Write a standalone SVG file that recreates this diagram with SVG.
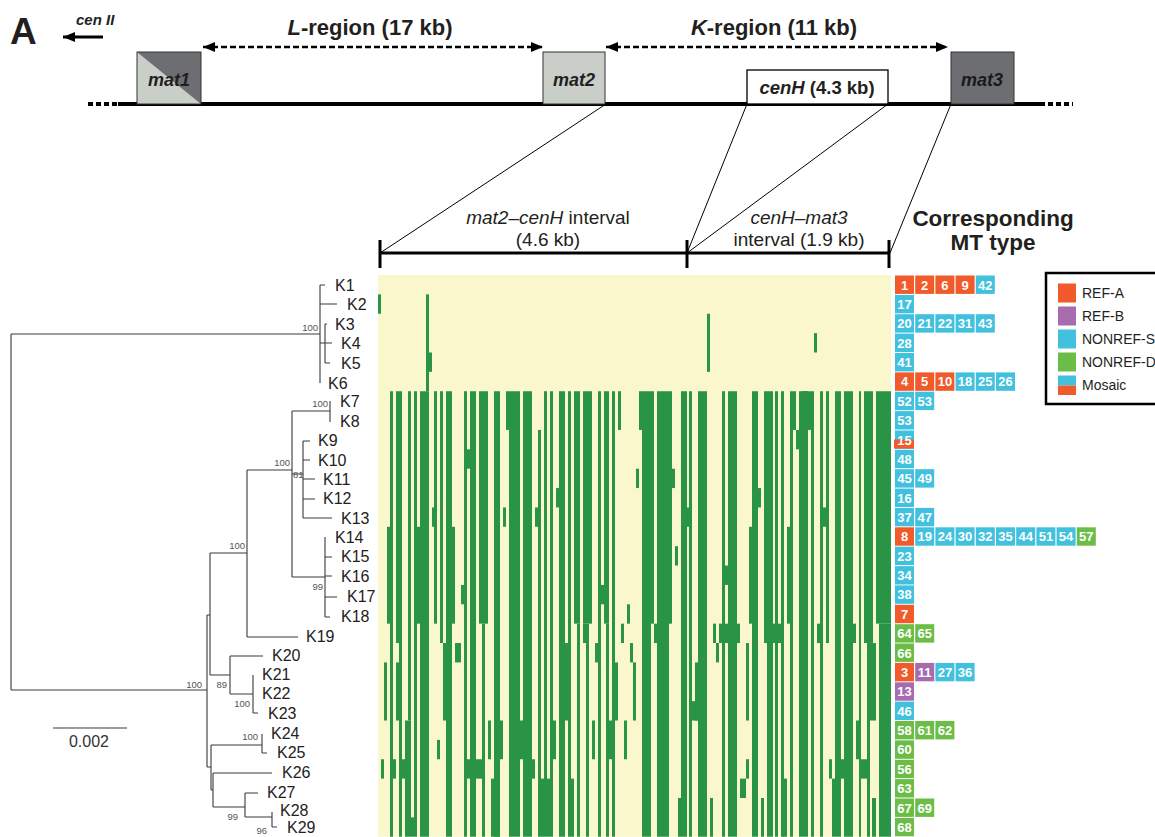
<svg xmlns="http://www.w3.org/2000/svg" width="1155" height="837" viewBox="0 0 1155 837">
<style>
text{font-family:"Liberation Sans",Arial,sans-serif;fill:#231f20}
.hb{font-weight:bold}
.it{font-style:italic}
.lf{font-size:16px;fill:#222}
.bs{font-size:9.5px;fill:#555}
.n{font-weight:bold;font-size:13px;fill:#fff;text-anchor:middle}
.a{fill:#f15a2a}.b{fill:#a66cae}.s{fill:#42c1de}.d{fill:#6bbd48}
.tr{fill:none;stroke:#3a3a3a;stroke-width:1.1}
.g{fill:#2a9446}
.lg{font-size:14px}
</style>
<defs>
<marker id="ah" markerUnits="userSpaceOnUse" markerWidth="13" markerHeight="10" refX="12" refY="5" orient="auto-start-reverse"><path d="M0,0 L12,5 L0,10 z" fill="#000"/></marker>
</defs>
<rect width="1155" height="837" fill="#fff"/>

<!-- title area -->
<text x="10" y="44" class="hb" font-size="37">A</text>
<g id="cenII"><text x="76" y="25" class="hb it" font-size="15">cen II</text>
<line x1="103" y1="37" x2="63" y2="37" stroke="#000" stroke-width="3" marker-end="url(#ah)"/></g>
<g id="L-region"><text x="370" y="35" class="hb" font-size="22" text-anchor="middle"><tspan class="it">L</tspan>-region (17 kb)</text>
<line x1="203" y1="47" x2="543" y2="47" stroke="#000" stroke-width="2.5" stroke-dasharray="6 3" marker-start="url(#ah)" marker-end="url(#ah)"/></g>
<g id="K-region"><text x="774" y="35" class="hb" font-size="22" text-anchor="middle"><tspan class="it">K</tspan>-region (11 kb)</text>
<line x1="606" y1="47" x2="948" y2="47" stroke="#000" stroke-width="2.5" stroke-dasharray="6 3" marker-start="url(#ah)" marker-end="url(#ah)"/></g>

<g id="chromosome">
<line x1="118" y1="104" x2="1040" y2="104" stroke="#000" stroke-width="4"/>
<line x1="88" y1="104" x2="118" y2="104" stroke="#000" stroke-width="4" stroke-dasharray="5 3"/>
<line x1="1040" y1="104" x2="1073" y2="104" stroke="#000" stroke-width="4" stroke-dasharray="5 3"/>
</g>
<g id="mat1"><rect x="137" y="52" width="64" height="52" fill="#c9cec9"/><polygon points="137,52 201,52 201,104" fill="#6d6e72"/><rect x="137" y="52" width="64" height="52" fill="none" stroke="#333" stroke-width="1"/><text x="169" y="86" class="hb it" font-size="18" text-anchor="middle">mat1</text></g>
<g id="mat2"><rect x="543" y="52" width="62" height="52" fill="#c9cec9" stroke="#333" stroke-width="1"/><text x="574" y="86" class="hb it" font-size="18" text-anchor="middle">mat2</text></g>
<g id="cenH"><rect x="747" y="70" width="141" height="34" fill="#fff" stroke="#000" stroke-width="1.3"/><text x="817" y="94" class="hb" font-size="18.5" text-anchor="middle"><tspan class="it">cenH</tspan> (4.3 kb)</text></g>
<g id="mat3"><rect x="951" y="52" width="63" height="52" fill="#6d6e72" stroke="#333" stroke-width="1"/><text x="982" y="86" class="hb it" font-size="18" text-anchor="middle" style="fill:#1a1a1a">mat3</text></g>

<g id="connectors" stroke="#000" stroke-width="1" fill="none">
<line x1="606" y1="104" x2="380" y2="253"/>
<line x1="747" y1="104" x2="687" y2="253"/>
<line x1="888" y1="104" x2="687" y2="253"/>
<line x1="951" y1="104" x2="890" y2="253"/>
</g>

<g id="interval-bar" stroke="#000" stroke-width="3">
<line x1="380" y1="253" x2="890" y2="253"/>
<line x1="380" y1="240" x2="380" y2="268"/>
<line x1="687" y1="240" x2="687" y2="268"/>
<line x1="889" y1="240" x2="889" y2="268"/>
</g>
<text x="548" y="224" font-size="19" text-anchor="middle"><tspan class="it">mat2–cenH</tspan> interval</text>
<text x="548" y="246" font-size="19" text-anchor="middle">(4.6 kb)</text>
<text x="799" y="224" font-size="19" text-anchor="middle" class="it">cenH–mat3</text>
<text x="799" y="246" font-size="19" text-anchor="middle">interval (1.9 kb)</text>
<text x="993" y="226" class="hb" font-size="22.5" text-anchor="middle">Corresponding</text>
<text x="993" y="250" class="hb" font-size="22.5" text-anchor="middle">MT type</text>

<!-- heatmap -->
<g id="heatmap" transform="translate(0,275) scale(1,19.37)">
<rect x="378" y="0" width="513" height="29" fill="#fbf7cc"/>
<g class="g">
<rect x="378" y="1" width="3" height="1"/><rect x="426" y="1" width="3" height="5"/><rect x="429" y="4" width="3" height="1"/><rect x="707" y="2" width="3" height="3"/><rect x="814" y="3" width="3" height="1"/>
<rect x="390" y="6" width="3" height="23"/><rect x="387" y="13" width="3" height="5"/><rect x="396" y="6" width="3" height="13"/><rect x="399" y="6" width="3" height="23"/><rect x="396" y="20" width="3" height="3"/><rect x="390" y="25" width="6" height="1"/><rect x="402" y="25" width="9" height="1"/><rect x="381" y="25" width="3" height="1"/><rect x="384" y="20" width="3" height="3"/>
<rect x="408" y="6" width="3" height="17"/><rect x="405" y="23" width="6" height="6"/><rect x="411" y="28" width="3" height="1"/><rect x="414" y="6" width="3" height="23"/><rect x="417" y="13" width="3" height="5"/><rect x="420" y="6" width="9" height="23"/><rect x="432" y="12" width="3" height="1"/><rect x="434" y="6" width="3" height="12"/><rect x="437" y="24" width="3" height="1"/><rect x="440" y="6" width="3" height="13"/><rect x="443" y="19" width="9" height="4"/><rect x="446" y="6" width="6" height="23"/><rect x="452" y="13" width="3" height="5"/><rect x="455" y="19" width="6" height="1"/><rect x="461" y="16" width="3" height="1"/><rect x="464" y="6" width="3" height="23"/><rect x="467" y="9" width="3" height="1"/><rect x="467" y="25" width="3" height="1"/><rect x="470" y="6" width="6" height="23"/><rect x="476" y="25" width="6" height="1"/><rect x="479" y="6" width="9" height="12"/><rect x="482" y="18" width="3" height="11"/><rect x="488" y="23" width="3" height="2"/><rect x="491" y="26" width="9" height="3"/><rect x="494" y="6" width="6" height="23"/><rect x="500" y="23" width="3" height="2"/><rect x="503" y="12" width="3" height="1"/><rect x="506" y="6" width="3" height="2"/><rect x="509" y="6" width="11" height="23"/><rect x="520" y="23" width="3" height="2"/><rect x="523" y="6" width="9" height="23"/><rect x="532" y="25" width="3" height="1"/><rect x="535" y="12" width="3" height="1"/><rect x="538" y="8" width="3" height="21"/><rect x="541" y="26" width="3" height="3"/><rect x="544" y="6" width="3" height="23"/><rect x="547" y="26" width="3" height="3"/><rect x="550" y="6" width="3" height="23"/><rect x="553" y="23" width="3" height="2"/><rect x="556" y="11" width="3" height="1"/><rect x="559" y="6" width="6" height="23"/><rect x="565" y="19" width="6" height="4"/><rect x="568" y="6" width="3" height="23"/><rect x="571" y="26" width="3" height="3"/><rect x="574" y="6" width="6" height="12"/><rect x="577" y="18" width="3" height="11"/><rect x="583" y="6" width="9" height="12"/><rect x="583" y="18" width="6" height="1"/><rect x="586" y="19" width="3" height="10"/><rect x="592" y="23" width="3" height="2"/><rect x="595" y="19" width="6" height="1"/><rect x="598" y="6" width="3" height="23"/><rect x="601" y="16" width="3" height="1"/><rect x="604" y="6" width="5" height="12"/><rect x="606" y="18" width="3" height="11"/><rect x="607" y="23" width="8" height="2"/><rect x="612" y="6" width="3" height="23"/><rect x="615" y="20" width="3" height="3"/><rect x="618" y="6" width="3" height="2"/><rect x="621" y="18" width="3" height="1"/><rect x="624" y="23" width="3" height="2"/><rect x="627" y="17" width="3" height="1"/>
<rect x="630" y="19" width="3" height="1"/><rect x="633" y="20" width="3" height="3"/><rect x="636" y="10" width="3" height="1"/><rect x="639" y="6" width="3" height="2"/><rect x="642" y="6" width="9" height="23"/><rect x="651" y="6" width="3" height="12"/><rect x="654" y="18" width="3" height="1"/><rect x="657" y="6" width="12" height="23"/><rect x="669" y="6" width="3" height="12"/><rect x="672" y="10" width="3" height="1"/><rect x="675" y="14" width="3" height="1"/><rect x="678" y="27" width="3" height="2"/><rect x="681" y="6" width="6" height="23"/><rect x="687" y="12" width="5" height="1"/><rect x="689" y="6" width="3" height="23"/><rect x="689" y="22" width="9" height="1"/><rect x="695" y="20" width="3" height="3"/><rect x="698" y="6" width="9" height="23"/><rect x="710" y="27" width="3" height="2"/><rect x="713" y="18" width="3" height="1"/><rect x="716" y="19" width="3" height="1"/><rect x="719" y="18" width="3" height="1"/><rect x="722" y="6" width="3" height="23"/><rect x="725" y="15" width="3" height="1"/><rect x="725" y="18" width="3" height="1"/><rect x="728" y="6" width="9" height="23"/><rect x="737" y="18" width="3" height="1"/><rect x="740" y="26" width="6" height="1"/><rect x="746" y="19" width="3" height="4"/><rect x="746" y="25" width="3" height="1"/><rect x="749" y="13" width="3" height="5"/><rect x="752" y="6" width="6" height="23"/><rect x="758" y="11" width="3" height="1"/><rect x="761" y="27" width="3" height="2"/><rect x="764" y="6" width="3" height="13"/><rect x="767" y="6" width="6" height="23"/><rect x="773" y="18" width="10" height="1"/><rect x="775" y="6" width="3" height="23"/><rect x="781" y="6" width="3" height="23"/><rect x="783" y="26" width="4" height="3"/><rect x="787" y="13" width="3" height="5"/><rect x="790" y="6" width="3" height="23"/><rect x="793" y="6" width="3" height="2"/><rect x="796" y="8" width="12" height="1"/><rect x="799" y="6" width="9" height="23"/><rect x="802" y="6" width="9" height="2"/><rect x="811" y="6" width="3" height="23"/><rect x="817" y="18" width="6" height="1"/><rect x="820" y="6" width="3" height="23"/><rect x="823" y="12" width="6" height="1"/><rect x="826" y="6" width="3" height="13"/><rect x="829" y="25" width="3" height="1"/><rect x="832" y="26" width="3" height="3"/><rect x="835" y="6" width="6" height="23"/><rect x="835" y="25" width="18" height="1"/><rect x="844" y="6" width="9" height="23"/><rect x="853" y="18" width="3" height="1"/><rect x="856" y="23" width="3" height="2"/><rect x="859" y="6" width="2" height="23"/><rect x="859" y="25" width="8" height="1"/><rect x="864" y="6" width="9" height="13"/><rect x="867" y="19" width="3" height="10"/><rect x="870" y="19" width="6" height="4"/><rect x="872" y="27" width="4" height="2"/><rect x="876" y="6" width="15" height="12"/><rect x="879" y="18" width="12" height="11"/>
</g>
</g>

<!-- tree -->
<g id="tree-branches" class="tr">
<path d="M11,334V690M11,334H320M11,690H207"/>
<path d="M320,285V383M320,285H325M320,304H337M320,343H332M325,324V363M325,363H330M325,324H327"/>
<path d="M292,411H330M330,401V422M292,411V577M292,474H303M303,441V518M303,441H310M303,460H310M303,479H315M303,499H315M303,518H332"/>
<path d="M247,470H292M247,470V637M247,637H298M292,577H325M325,537V617M325,557H332M325,576H332M325,597H337M325,617H330"/>
<path d="M210,553H247M210,553V675M207,615H210M207,615V767M210,675H230M230,656V694M230,656H263M230,694H253M253,675V713M253,713H258"/>
<path d="M207,767H211M211,745V790M211,745H262M262,734V753M262,753H267M211,790H213M213,773V807M213,773H272M213,807H245M245,793V817M245,793H258M245,817H272M272,812V827M272,827H277"/>
</g>
<g id="bootstrap">
<text x="318" y="331" class="bs" text-anchor="end">100</text>
<text x="328" y="407" class="bs" text-anchor="end">100</text>
<text x="290" y="466" class="bs" text-anchor="end">100</text>
<text x="293" y="478" class="bs">81</text>
<text x="245" y="549" class="bs" text-anchor="end">100</text>
<text x="323" y="590" class="bs" text-anchor="end">99</text>
<text x="202" y="688" class="bs" text-anchor="end">100</text>
<text x="227" y="688" class="bs" text-anchor="end">89</text>
<text x="250" y="707" class="bs" text-anchor="end">100</text>
<text x="258" y="740" class="bs" text-anchor="end">100</text>
<text x="238" y="820" class="bs" text-anchor="end">99</text>
<text x="267" y="834" class="bs" text-anchor="end">96</text>
</g>
<g id="leaves" class="lf">
<g id="leaf-K1"><text x="335" y="291" class="lf">K1</text></g>
<g id="leaf-K2"><text x="347" y="310" class="lf">K2</text></g>
<g id="leaf-K3"><text x="335" y="330" class="lf">K3</text></g>
<g id="leaf-K4"><text x="341" y="349" class="lf">K4</text></g>
<g id="leaf-K5"><text x="341" y="369" class="lf">K5</text></g>
<g id="leaf-K6"><text x="328" y="389" class="lf">K6</text></g>
<g id="leaf-K7"><text x="340" y="407" class="lf">K7</text></g>
<g id="leaf-K8"><text x="340" y="427" class="lf">K8</text></g>
<g id="leaf-K9"><text x="318" y="446" class="lf">K9</text></g>
<g id="leaf-K10"><text x="318" y="466" class="lf">K10</text></g>
<g id="leaf-K11"><text x="323" y="485" class="lf">K11</text></g>
<g id="leaf-K12"><text x="323" y="504" class="lf">K12</text></g>
<g id="leaf-K13"><text x="341" y="524" class="lf">K13</text></g>
<g id="leaf-K14"><text x="335" y="543" class="lf">K14</text></g>
<g id="leaf-K15"><text x="341" y="562" class="lf">K15</text></g>
<g id="leaf-K16"><text x="341" y="582" class="lf">K16</text></g>
<g id="leaf-K17"><text x="347" y="602" class="lf">K17</text></g>
<g id="leaf-K18"><text x="341" y="622" class="lf">K18</text></g>
<g id="leaf-K19"><text x="306" y="642" class="lf">K19</text></g>
<g id="leaf-K20"><text x="272" y="661" class="lf">K20</text></g>
<g id="leaf-K21"><text x="262" y="680" class="lf">K21</text></g>
<g id="leaf-K22"><text x="262" y="699" class="lf">K22</text></g>
<g id="leaf-K23"><text x="268" y="719" class="lf">K23</text></g>
<g id="leaf-K24"><text x="271" y="739" class="lf">K24</text></g>
<g id="leaf-K25"><text x="277" y="758" class="lf">K25</text></g>
<g id="leaf-K26"><text x="282" y="778" class="lf">K26</text></g>
<g id="leaf-K27"><text x="267" y="798" class="lf">K27</text></g>
<g id="leaf-K28"><text x="280" y="816" class="lf">K28</text></g>
<g id="leaf-K29"><text x="287" y="833" class="lf">K29</text></g>
</g>
<g id="scalebar"><line x1="53" y1="728" x2="127" y2="728" stroke="#3a3a3a" stroke-width="1.1"/><text x="89" y="747" font-size="16" text-anchor="middle" style="fill:#333">0.002</text></g>

<!-- MT types -->
<g id="mt-types">
<g id="mt-K1" transform="translate(0,275)"><rect class="a" x="895" y="0.5" width="19" height="18.4"/><rect class="a" x="915.2" y="0.5" width="19" height="18.4"/><rect class="a" x="935.4" y="0.5" width="19" height="18.4"/><rect class="a" x="955.6" y="0.5" width="19" height="18.4"/><rect class="s" x="975.8" y="0.5" width="19" height="18.4"/><text class="n" x="904.5" y="14.5">1</text><text class="n" x="924.7" y="14.5">2</text><text class="n" x="944.9" y="14.5">6</text><text class="n" x="965.1" y="14.5">9</text><text class="n" x="985.3" y="14.5">42</text></g>
<g id="mt-K2" transform="translate(0,294.4)"><rect class="s" x="895" y="0.5" width="19" height="18.4"/><text class="n" x="904.5" y="14.5">17</text></g>
<g id="mt-K3" transform="translate(0,313.7)"><rect class="s" x="895" y="0.5" width="19" height="18.4"/><rect class="s" x="915.2" y="0.5" width="19" height="18.4"/><rect class="s" x="935.4" y="0.5" width="19" height="18.4"/><rect class="s" x="955.6" y="0.5" width="19" height="18.4"/><rect class="s" x="975.8" y="0.5" width="19" height="18.4"/><text class="n" x="904.5" y="14.5">20</text><text class="n" x="924.7" y="14.5">21</text><text class="n" x="944.9" y="14.5">22</text><text class="n" x="965.1" y="14.5">31</text><text class="n" x="985.3" y="14.5">43</text></g>
<g id="mt-K4" transform="translate(0,333.1)"><rect class="s" x="895" y="0.5" width="19" height="18.4"/><text class="n" x="904.5" y="14.5">28</text></g>
<g id="mt-K5" transform="translate(0,352.5)"><rect class="s" x="895" y="0.5" width="19" height="18.4"/><text class="n" x="904.5" y="14.5">41</text></g>
<g id="mt-K6" transform="translate(0,371.9)"><rect class="a" x="895" y="0.5" width="19" height="18.4"/><rect class="a" x="915.2" y="0.5" width="19" height="18.4"/><rect class="a" x="935.4" y="0.5" width="19" height="18.4"/><rect class="s" x="955.6" y="0.5" width="19" height="18.4"/><rect class="s" x="975.8" y="0.5" width="19" height="18.4"/><rect class="s" x="996" y="0.5" width="19" height="18.4"/><text class="n" x="904.5" y="14.5">4</text><text class="n" x="924.7" y="14.5">5</text><text class="n" x="944.9" y="14.5">10</text><text class="n" x="965.1" y="14.5">18</text><text class="n" x="985.3" y="14.5">25</text><text class="n" x="1005.5" y="14.5">26</text></g>
<g id="mt-K7" transform="translate(0,391.2)"><rect class="s" x="895" y="0.5" width="19" height="18.4"/><rect class="s" x="915.2" y="0.5" width="19" height="18.4"/><text class="n" x="904.5" y="14.5">52</text><text class="n" x="924.7" y="14.5">53</text></g>
<g id="mt-K8" transform="translate(0,410.6)"><rect class="s" x="895" y="0.5" width="19" height="18.4"/><text class="n" x="904.5" y="14.5">53</text></g>
<g id="mt-K9" transform="translate(0,430)"><rect class="s" x="895" y="0.5" width="19" height="18.4"/><rect class="a" x="894" y="9.5" width="20" height="9"/><text class="n" x="904.5" y="14.5">15</text></g>
<g id="mt-K10" transform="translate(0,449.3)"><rect class="s" x="895" y="0.5" width="19" height="18.4"/><text class="n" x="904.5" y="14.5">48</text></g>
<g id="mt-K11" transform="translate(0,468.7)"><rect class="s" x="895" y="0.5" width="19" height="18.4"/><rect class="s" x="915.2" y="0.5" width="19" height="18.4"/><text class="n" x="904.5" y="14.5">45</text><text class="n" x="924.7" y="14.5">49</text></g>
<g id="mt-K12" transform="translate(0,488.1)"><rect class="s" x="895" y="0.5" width="19" height="18.4"/><text class="n" x="904.5" y="14.5">16</text></g>
<g id="mt-K13" transform="translate(0,507.4)"><rect class="s" x="895" y="0.5" width="19" height="18.4"/><rect class="s" x="915.2" y="0.5" width="19" height="18.4"/><text class="n" x="904.5" y="14.5">37</text><text class="n" x="924.7" y="14.5">47</text></g>
<g id="mt-K14" transform="translate(0,526.8)"><rect class="a" x="895" y="0.5" width="19" height="18.4"/><rect class="s" x="915.2" y="0.5" width="19" height="18.4"/><rect class="s" x="935.4" y="0.5" width="19" height="18.4"/><rect class="s" x="955.6" y="0.5" width="19" height="18.4"/><rect class="s" x="975.8" y="0.5" width="19" height="18.4"/><rect class="s" x="996" y="0.5" width="19" height="18.4"/><rect class="s" x="1016.2" y="0.5" width="19" height="18.4"/><rect class="s" x="1036.4" y="0.5" width="19" height="18.4"/><rect class="s" x="1056.6" y="0.5" width="19" height="18.4"/><rect class="d" x="1076.8" y="0.5" width="19" height="18.4"/><text class="n" x="904.5" y="14.5">8</text><text class="n" x="924.7" y="14.5">19</text><text class="n" x="944.9" y="14.5">24</text><text class="n" x="965.1" y="14.5">30</text><text class="n" x="985.3" y="14.5">32</text><text class="n" x="1005.5" y="14.5">35</text><text class="n" x="1025.7" y="14.5">44</text><text class="n" x="1045.9" y="14.5">51</text><text class="n" x="1066.1" y="14.5">54</text><text class="n" x="1086.3" y="14.5">57</text></g>
<g id="mt-K15" transform="translate(0,546.2)"><rect class="s" x="895" y="0.5" width="19" height="18.4"/><text class="n" x="904.5" y="14.5">23</text></g>
<g id="mt-K16" transform="translate(0,565.6)"><rect class="s" x="895" y="0.5" width="19" height="18.4"/><text class="n" x="904.5" y="14.5">34</text></g>
<g id="mt-K17" transform="translate(0,584.9)"><rect class="s" x="895" y="0.5" width="19" height="18.4"/><text class="n" x="904.5" y="14.5">38</text></g>
<g id="mt-K18" transform="translate(0,604.3)"><rect class="a" x="895" y="0.5" width="19" height="18.4"/><text class="n" x="904.5" y="14.5">7</text></g>
<g id="mt-K19" transform="translate(0,623.7)"><rect class="d" x="895" y="0.5" width="19" height="18.4"/><rect class="d" x="915.2" y="0.5" width="19" height="18.4"/><text class="n" x="904.5" y="14.5">64</text><text class="n" x="924.7" y="14.5">65</text></g>
<g id="mt-K20" transform="translate(0,643)"><rect class="d" x="895" y="0.5" width="19" height="18.4"/><text class="n" x="904.5" y="14.5">66</text></g>
<g id="mt-K21" transform="translate(0,662.4)"><rect class="a" x="895" y="0.5" width="19" height="18.4"/><rect class="b" x="915.2" y="0.5" width="19" height="18.4"/><rect class="s" x="935.4" y="0.5" width="19" height="18.4"/><rect class="s" x="955.6" y="0.5" width="19" height="18.4"/><text class="n" x="904.5" y="14.5">3</text><text class="n" x="924.7" y="14.5">11</text><text class="n" x="944.9" y="14.5">27</text><text class="n" x="965.1" y="14.5">36</text></g>
<g id="mt-K22" transform="translate(0,681.8)"><rect class="b" x="895" y="0.5" width="19" height="18.4"/><text class="n" x="904.5" y="14.5">13</text></g>
<g id="mt-K23" transform="translate(0,701.1)"><rect class="s" x="895" y="0.5" width="19" height="18.4"/><text class="n" x="904.5" y="14.5">46</text></g>
<g id="mt-K24" transform="translate(0,720.5)"><rect class="d" x="895" y="0.5" width="19" height="18.4"/><rect class="d" x="915.2" y="0.5" width="19" height="18.4"/><rect class="d" x="935.4" y="0.5" width="19" height="18.4"/><text class="n" x="904.5" y="14.5">58</text><text class="n" x="924.7" y="14.5">61</text><text class="n" x="944.9" y="14.5">62</text></g>
<g id="mt-K25" transform="translate(0,739.9)"><rect class="d" x="895" y="0.5" width="19" height="18.4"/><text class="n" x="904.5" y="14.5">60</text></g>
<g id="mt-K26" transform="translate(0,759.3)"><rect class="d" x="895" y="0.5" width="19" height="18.4"/><text class="n" x="904.5" y="14.5">56</text></g>
<g id="mt-K27" transform="translate(0,778.6)"><rect class="d" x="895" y="0.5" width="19" height="18.4"/><text class="n" x="904.5" y="14.5">63</text></g>
<g id="mt-K28" transform="translate(0,798)"><rect class="d" x="895" y="0.5" width="19" height="18.4"/><rect class="d" x="915.2" y="0.5" width="19" height="18.4"/><text class="n" x="904.5" y="14.5">67</text><text class="n" x="924.7" y="14.5">69</text></g>
<g id="mt-K29" transform="translate(0,817.4)"><rect class="d" x="895" y="0.5" width="19" height="18.4"/><text class="n" x="904.5" y="14.5">68</text></g>
</g>

<!-- legend -->
<g id="legend">
<rect x="1046" y="273" width="125" height="131" fill="#fff" stroke="#000" stroke-width="2.5"/>
<rect class="a" x="1058" y="283.5" width="18" height="19"/><text x="1082" y="298" class="lg">REF-A</text>
<rect class="b" x="1058" y="306.5" width="18" height="19"/><text x="1082" y="321" class="lg">REF-B</text>
<rect class="s" x="1058" y="329.5" width="18" height="19"/><text x="1082" y="344" class="lg">NONREF-S</text>
<rect class="d" x="1058" y="352.5" width="18" height="19"/><text x="1082" y="367" class="lg">NONREF-D</text>
<rect class="s" x="1058" y="375.5" width="18" height="10"/><rect class="a" x="1058" y="385.5" width="18" height="9.5"/><text x="1082" y="390" class="lg">Mosaic</text>
</g>
</svg>
